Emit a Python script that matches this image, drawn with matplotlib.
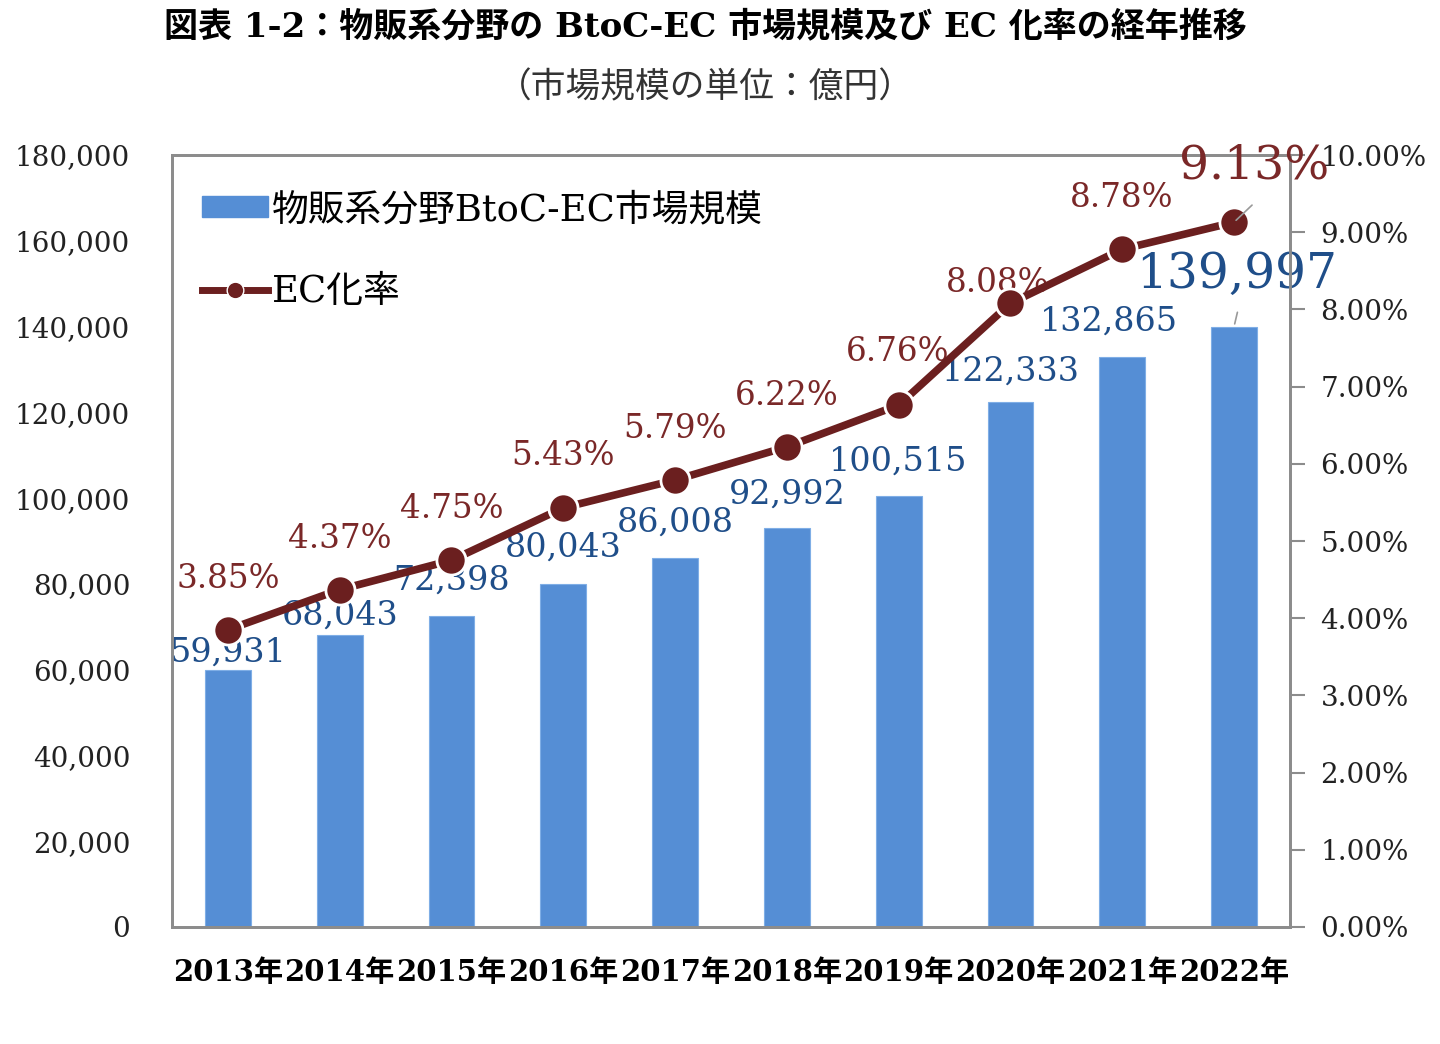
import numpy as np
import matplotlib
matplotlib.use('Agg')
import matplotlib.pyplot as plt
from matplotlib.patches import Patch
from matplotlib.lines import Line2D

plt.rcParams['font.family'] = ['DejaVu Serif', 'Noto Sans CJK JP']

years = ['2013年', '2014年', '2015年', '2016年', '2017年',
         '2018年', '2019年', '2020年', '2021年', '2022年']
market = [59931, 68043, 72398, 80043, 86008, 92992, 100515, 122333, 132865, 139997]
ec_rate = [3.85, 4.37, 4.75, 5.43, 5.79, 6.22, 6.76, 8.08, 8.78, 9.13]

bar_col = '#558ED5'
line_col = '#6B1F1F'
pct_col = '#7A2828'
val_col = '#1F4E89'
spine_col = '#8C8C8C'

# label offsets in pixels (dx, dy)
bar_off = [(0, 17), (0, 20), (0, 36), (0, 36), (0, 35), (0, 34), (0, 34), (0, 31), (-13, 36), (3, 52)]
pct_off = [(0, 51), (0, 51), (0, 51), (0, 52), (0, 51), (0, 51), (-1, 53), (-13, 20), (-1, 51), (20, 56)]

fig = plt.figure(figsize=(14.4, 10.44), dpi=100)
ax = fig.add_axes([0.1194, 0.1121, 0.7764, 0.7394])
ax2 = ax.twinx()

x = np.arange(len(years))
ax.bar(x, market, width=0.41, color=bar_col, edgecolor='#7FAEE6', linewidth=0.8, zorder=2)
ax.set_xlim(-0.5, len(years) - 0.5)
ax.set_ylim(0, 180000)
ax.set_yticks(np.arange(0, 180001, 20000))
ax.set_yticklabels([f'{v:,}' for v in range(0, 180001, 20000)])
ax.set_xticks(x)
ax.set_xticklabels(years, fontsize=21, fontweight='bold')
ax.tick_params(axis='x', length=0, pad=22)
ax.tick_params(axis='y', length=0, pad=30, labelsize=20, labelcolor='#222222')

for i, v in enumerate(market):
    big = i == len(market) - 1
    ax.annotate(f'{v:,}', (x[i], v), xytext=bar_off[i], textcoords='offset pixels',
                ha='center', va='center', color=val_col,
                fontsize=35 if big else 24, zorder=3)
# leader line for the last bar label
ax.annotate('', (x[-1], market[-1]), xytext=(4, 17), textcoords='offset pixels',
            arrowprops=dict(arrowstyle='-', color='#999999', lw=1.2))

ax2.plot(x, ec_rate, color=line_col, lw=5.5, marker='o', markersize=21,
         markerfacecolor=line_col, markeredgecolor='white', markeredgewidth=2, zorder=4)
ax2.set_ylim(0, 10)
ax2.set_yticks(np.arange(0, 10.01, 1))
ax2.set_yticklabels([f'{v:.2f}%' for v in np.arange(0, 10.01, 1)])
ax2.tick_params(axis='y', direction='out', length=11, width=1.5, color=spine_col,
                pad=11, labelsize=20, labelcolor='#222222')

for i, v in enumerate(ec_rate):
    big = i == len(ec_rate) - 1
    ax2.annotate(f'{v:.2f}%', (x[i], v), xytext=pct_off[i], textcoords='offset pixels',
                 ha='center', va='center', color=pct_col,
                 fontsize=34 if big else 23.5, zorder=3)
ax2.annotate('', (x[-1], ec_rate[-1]), xytext=(20, 19), textcoords='offset pixels',
             arrowprops=dict(arrowstyle='-', color='#999999', lw=1.2), zorder=5)

for a in (ax, ax2):
    for s in a.spines.values():
        s.set_color(spine_col)
        s.set_linewidth(2)

handles = [Patch(facecolor=bar_col, edgecolor=bar_col),
           Line2D([0], [0], color=line_col, lw=5, marker='o', markersize=12,
                  markerfacecolor=line_col, markeredgecolor='white', markeredgewidth=1)]
ax2.legend(handles, ['物販系分野BtoC-EC市場規模', 'EC化率'], loc='upper left',
           bbox_to_anchor=(-0.003, 0.995), frameon=False, fontsize=26.5,
           handlelength=1.8, handleheight=0.5, handletextpad=0.12, labelspacing=1.25)

fig.text(0.49, 0.974, '図表 1-2：物販系分野の BtoC-EC 市場規模及び EC 化率の経年推移',
         ha='center', va='center', fontsize=24.5, fontweight='bold')
fig.text(0.49, 0.916, '（市場規模の単位：億円）', ha='center', va='center',
         fontsize=25, color='#333333')

fig.savefig('out.png', dpi=100)
